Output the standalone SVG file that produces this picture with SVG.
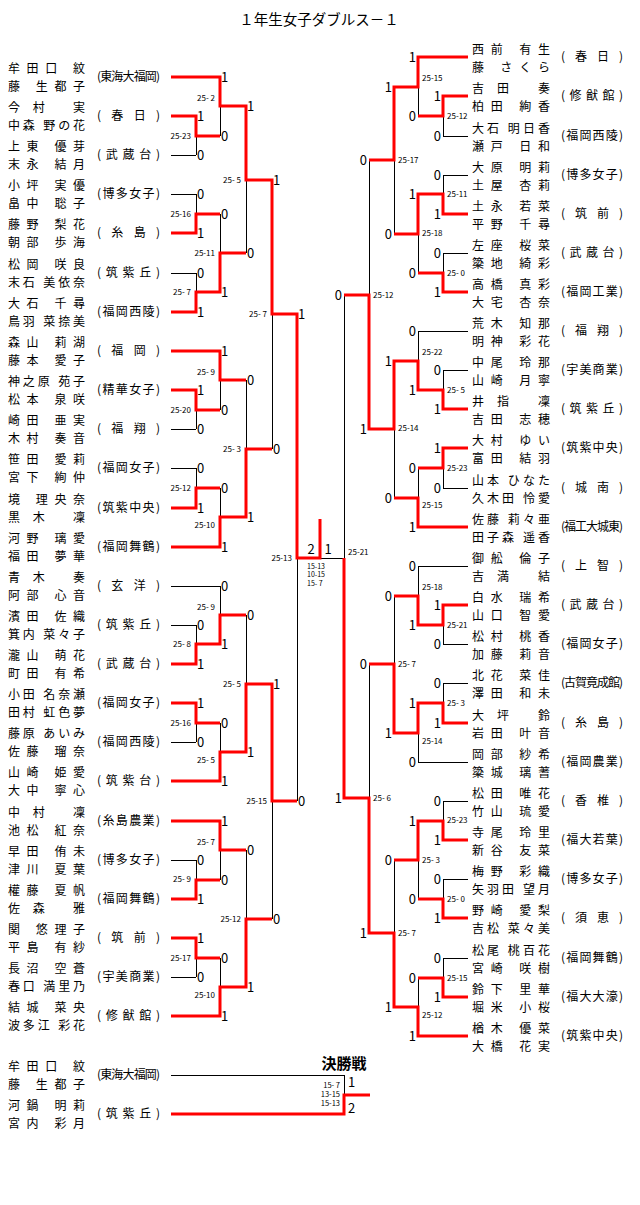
<svg xmlns="http://www.w3.org/2000/svg" width="640" height="1205" viewBox="0 0 640 1205">
<style>
text{font-family:"Noto Sans CJK JP","Noto Sans CJK SC",sans-serif;fill:#000}
.n{font-size:12px}
.t{font-size:12px}
.s{font-family:"Liberation Sans",Arial,sans-serif;font-size:8px;white-space:pre}
.c{font-size:7px}
.f{font-size:7.5px}
.d{font-family:"Liberation Sans",Arial,sans-serif;font-size:13px}
.e{text-anchor:end}
.m{text-anchor:middle}
.k{stroke:#000;stroke-width:1;fill:none}
.r{stroke:#f00;stroke-width:3;fill:none;stroke-linejoin:miter}
</style>
<rect width="640" height="1205" fill="#fff"/>
<text id="title" x="319" y="25" class="m" style="font-size:14.5px">１年生女子ダブルス－１</text>

<g id="left-entries">
<g id="L1"><text class="n"><tspan x="8" y="73.2" textLength="77" lengthAdjust="spacing">牟田口 紋</tspan><tspan x="8" y="90.7" textLength="77" lengthAdjust="spacing">藤 生都子</tspan></text><text class="t" x="97" y="81" textLength="63" lengthAdjust="spacing">(東海大福岡)</text></g>
<g id="L2"><text class="n"><tspan x="8" y="112.2" textLength="77" lengthAdjust="spacing">今村 実</tspan><tspan x="8" y="129.7" textLength="77" lengthAdjust="spacing">中森 野の花</tspan></text><text class="t" x="97" y="120" textLength="63" lengthAdjust="spacing">(春日)</text></g>
<g id="L3"><text class="n"><tspan x="8" y="151.2" textLength="77" lengthAdjust="spacing">上東 優芽</tspan><tspan x="8" y="168.7" textLength="77" lengthAdjust="spacing">末永 結月</tspan></text><text class="t" x="97" y="159" textLength="63" lengthAdjust="spacing">(武蔵台)</text></g>
<g id="L4"><text class="n"><tspan x="8" y="190.2" textLength="77" lengthAdjust="spacing">小坪 実優</tspan><tspan x="8" y="207.7" textLength="77" lengthAdjust="spacing">畠中 聡子</tspan></text><text class="t" x="97" y="198" textLength="63" lengthAdjust="spacing">(博多女子)</text></g>
<g id="L5"><text class="n"><tspan x="8" y="229.2" textLength="77" lengthAdjust="spacing">藤野 梨花</tspan><tspan x="8" y="246.7" textLength="77" lengthAdjust="spacing">朝部 歩海</tspan></text><text class="t" x="97" y="237" textLength="63" lengthAdjust="spacing">(糸島)</text></g>
<g id="L6"><text class="n"><tspan x="8" y="269.2" textLength="77" lengthAdjust="spacing">松岡 咲良</tspan><tspan x="8" y="286.7" textLength="77" lengthAdjust="spacing">末石 美依奈</tspan></text><text class="t" x="97" y="277" textLength="63" lengthAdjust="spacing">(筑紫丘)</text></g>
<g id="L7"><text class="n"><tspan x="8" y="308.2" textLength="77" lengthAdjust="spacing">大石 千尋</tspan><tspan x="8" y="325.7" textLength="77" lengthAdjust="spacing">鳥羽 菜捺美</tspan></text><text class="t" x="97" y="316" textLength="63" lengthAdjust="spacing">(福岡西陵)</text></g>
<g id="L8"><text class="n"><tspan x="8" y="347.2" textLength="77" lengthAdjust="spacing">森山 莉湖</tspan><tspan x="8" y="364.7" textLength="77" lengthAdjust="spacing">藤本 愛子</tspan></text><text class="t" x="97" y="355" textLength="63" lengthAdjust="spacing">(福岡)</text></g>
<g id="L9"><text class="n"><tspan x="8" y="386.2" textLength="77" lengthAdjust="spacing">神之原 苑子</tspan><tspan x="8" y="403.7" textLength="77" lengthAdjust="spacing">松本 泉咲</tspan></text><text class="t" x="97" y="394" textLength="63" lengthAdjust="spacing">(精華女子)</text></g>
<g id="L10"><text class="n"><tspan x="8" y="425.2" textLength="77" lengthAdjust="spacing">崎田 亜実</tspan><tspan x="8" y="442.7" textLength="77" lengthAdjust="spacing">木村 奏音</tspan></text><text class="t" x="97" y="433" textLength="63" lengthAdjust="spacing">(福翔)</text></g>
<g id="L11"><text class="n"><tspan x="8" y="464.2" textLength="77" lengthAdjust="spacing">笹田 愛莉</tspan><tspan x="8" y="481.7" textLength="77" lengthAdjust="spacing">宮下 絢仲</tspan></text><text class="t" x="97" y="472" textLength="63" lengthAdjust="spacing">(福岡女子)</text></g>
<g id="L12"><text class="n"><tspan x="8" y="504.2" textLength="77" lengthAdjust="spacing">境 理央奈</tspan><tspan x="8" y="521.7" textLength="77" lengthAdjust="spacing">黒木 凜</tspan></text><text class="t" x="97" y="512" textLength="63" lengthAdjust="spacing">(筑紫中央)</text></g>
<g id="L13"><text class="n"><tspan x="8" y="543.2" textLength="77" lengthAdjust="spacing">河野 璃愛</tspan><tspan x="8" y="560.7" textLength="77" lengthAdjust="spacing">福田 夢華</tspan></text><text class="t" x="97" y="551" textLength="63" lengthAdjust="spacing">(福岡舞鶴)</text></g>
<g id="L14"><text class="n"><tspan x="8" y="582.2" textLength="77" lengthAdjust="spacing">青木 奏</tspan><tspan x="8" y="599.7" textLength="77" lengthAdjust="spacing">阿部 心音</tspan></text><text class="t" x="97" y="590" textLength="63" lengthAdjust="spacing">(玄洋)</text></g>
<g id="L15"><text class="n"><tspan x="8" y="621.2" textLength="77" lengthAdjust="spacing">濱田 佐織</tspan><tspan x="8" y="638.7" textLength="77" lengthAdjust="spacing">箕内 菜々子</tspan></text><text class="t" x="97" y="629" textLength="63" lengthAdjust="spacing">(筑紫丘)</text></g>
<g id="L16"><text class="n"><tspan x="8" y="660.2" textLength="77" lengthAdjust="spacing">瀧山 萌花</tspan><tspan x="8" y="677.7" textLength="77" lengthAdjust="spacing">町田 有希</tspan></text><text class="t" x="97" y="668" textLength="63" lengthAdjust="spacing">(武蔵台)</text></g>
<g id="L17"><text class="n"><tspan x="8" y="699.2" textLength="77" lengthAdjust="spacing">小田 名奈瀬</tspan><tspan x="8" y="716.7" textLength="77" lengthAdjust="spacing">田村 虹色夢</tspan></text><text class="t" x="97" y="707" textLength="63" lengthAdjust="spacing">(福岡女子)</text></g>
<g id="L18"><text class="n"><tspan x="8" y="738.2" textLength="77" lengthAdjust="spacing">藤原 あいみ</tspan><tspan x="8" y="755.7" textLength="77" lengthAdjust="spacing">佐藤 瑠奈</tspan></text><text class="t" x="97" y="746" textLength="63" lengthAdjust="spacing">(福岡西陵)</text></g>
<g id="L19"><text class="n"><tspan x="8" y="777.2" textLength="77" lengthAdjust="spacing">山崎 姫愛</tspan><tspan x="8" y="794.7" textLength="77" lengthAdjust="spacing">大中 寧心</tspan></text><text class="t" x="97" y="785" textLength="63" lengthAdjust="spacing">(筑紫台)</text></g>
<g id="L20"><text class="n"><tspan x="8" y="817.2" textLength="77" lengthAdjust="spacing">中村 凜</tspan><tspan x="8" y="834.7" textLength="77" lengthAdjust="spacing">池松 紅奈</tspan></text><text class="t" x="97" y="825" textLength="63" lengthAdjust="spacing">(糸島農業)</text></g>
<g id="L21"><text class="n"><tspan x="8" y="856.2" textLength="77" lengthAdjust="spacing">早田 侑未</tspan><tspan x="8" y="873.7" textLength="77" lengthAdjust="spacing">津川 夏葉</tspan></text><text class="t" x="97" y="864" textLength="63" lengthAdjust="spacing">(博多女子)</text></g>
<g id="L22"><text class="n"><tspan x="8" y="895.2" textLength="77" lengthAdjust="spacing">權藤 夏帆</tspan><tspan x="8" y="912.7" textLength="77" lengthAdjust="spacing">佐森 雅</tspan></text><text class="t" x="97" y="903" textLength="63" lengthAdjust="spacing">(福岡舞鶴)</text></g>
<g id="L23"><text class="n"><tspan x="8" y="934.2" textLength="77" lengthAdjust="spacing">関 悠理子</tspan><tspan x="8" y="951.7" textLength="77" lengthAdjust="spacing">平島 有紗</tspan></text><text class="t" x="97" y="942" textLength="63" lengthAdjust="spacing">(筑前)</text></g>
<g id="L24"><text class="n"><tspan x="8" y="973.2" textLength="77" lengthAdjust="spacing">長沼 空蒼</tspan><tspan x="8" y="990.7" textLength="77" lengthAdjust="spacing">春口 満里乃</tspan></text><text class="t" x="97" y="981" textLength="63" lengthAdjust="spacing">(宇美商業)</text></g>
<g id="L25"><text class="n"><tspan x="8" y="1012.2" textLength="77" lengthAdjust="spacing">結城 菜央</tspan><tspan x="8" y="1029.7" textLength="77" lengthAdjust="spacing">波多江 彩花</tspan></text><text class="t" x="97" y="1020" textLength="63" lengthAdjust="spacing">(修猷館)</text></g>
</g>

<g id="right-entries">
<g id="R1"><text class="n"><tspan x="472" y="54.2" textLength="78" lengthAdjust="spacing">西前 有生</tspan><tspan x="472" y="71.7" textLength="78" lengthAdjust="spacing">藤 さくら</tspan></text><text class="t" x="561" y="61" textLength="62" lengthAdjust="spacing">(春日)</text></g>
<g id="R2"><text class="n"><tspan x="472" y="93.2" textLength="78" lengthAdjust="spacing">吉田 奏</tspan><tspan x="472" y="110.7" textLength="78" lengthAdjust="spacing">柏田 絢香</tspan></text><text class="t" x="561" y="100" textLength="62" lengthAdjust="spacing">(修猷館)</text></g>
<g id="R3"><text class="n"><tspan x="472" y="133.2" textLength="78" lengthAdjust="spacing">大石 明日香</tspan><tspan x="472" y="150.7" textLength="78" lengthAdjust="spacing">瀬戸 日和</tspan></text><text class="t" x="561" y="140" textLength="62" lengthAdjust="spacing">(福岡西陵)</text></g>
<g id="R4"><text class="n"><tspan x="472" y="172.2" textLength="78" lengthAdjust="spacing">大原 明莉</tspan><tspan x="472" y="189.7" textLength="78" lengthAdjust="spacing">土屋 杏莉</tspan></text><text class="t" x="561" y="179" textLength="62" lengthAdjust="spacing">(博多女子)</text></g>
<g id="R5"><text class="n"><tspan x="472" y="211.2" textLength="78" lengthAdjust="spacing">土永 若菜</tspan><tspan x="472" y="228.7" textLength="78" lengthAdjust="spacing">平野 千尋</tspan></text><text class="t" x="561" y="218" textLength="62" lengthAdjust="spacing">(筑前)</text></g>
<g id="R6"><text class="n"><tspan x="472" y="250.2" textLength="78" lengthAdjust="spacing">左座 桜菜</tspan><tspan x="472" y="267.7" textLength="78" lengthAdjust="spacing">簗地 綺彩</tspan></text><text class="t" x="561" y="257" textLength="62" lengthAdjust="spacing">(武蔵台)</text></g>
<g id="R7"><text class="n"><tspan x="472" y="289.2" textLength="78" lengthAdjust="spacing">高橋 真彩</tspan><tspan x="472" y="306.7" textLength="78" lengthAdjust="spacing">大宅 杏奈</tspan></text><text class="t" x="561" y="296" textLength="62" lengthAdjust="spacing">(福岡工業)</text></g>
<g id="R8"><text class="n"><tspan x="472" y="328.2" textLength="78" lengthAdjust="spacing">荒木 知那</tspan><tspan x="472" y="345.7" textLength="78" lengthAdjust="spacing">明神 彩花</tspan></text><text class="t" x="561" y="335" textLength="62" lengthAdjust="spacing">(福翔)</text></g>
<g id="R9"><text class="n"><tspan x="472" y="367.2" textLength="78" lengthAdjust="spacing">中尾 玲那</tspan><tspan x="472" y="384.7" textLength="78" lengthAdjust="spacing">山崎 月寧</tspan></text><text class="t" x="561" y="374" textLength="62" lengthAdjust="spacing">(宇美商業)</text></g>
<g id="R10"><text class="n"><tspan x="472" y="406.2" textLength="78" lengthAdjust="spacing">井指 凜</tspan><tspan x="472" y="423.7" textLength="78" lengthAdjust="spacing">吉田 志穂</tspan></text><text class="t" x="561" y="413" textLength="62" lengthAdjust="spacing">(筑紫丘)</text></g>
<g id="R11"><text class="n"><tspan x="472" y="445.2" textLength="78" lengthAdjust="spacing">大村 ゆい</tspan><tspan x="472" y="462.7" textLength="78" lengthAdjust="spacing">富田 結羽</tspan></text><text class="t" x="561" y="452" textLength="62" lengthAdjust="spacing">(筑紫中央)</text></g>
<g id="R12"><text class="n"><tspan x="472" y="485.2" textLength="78" lengthAdjust="spacing">山本 ひなた</tspan><tspan x="472" y="502.7" textLength="78" lengthAdjust="spacing">久木田 怜愛</tspan></text><text class="t" x="561" y="492" textLength="62" lengthAdjust="spacing">(城南)</text></g>
<g id="R13"><text class="n"><tspan x="472" y="524.2" textLength="78" lengthAdjust="spacing">佐藤 莉々亜</tspan><tspan x="472" y="541.7" textLength="78" lengthAdjust="spacing">田子森 遥香</tspan></text><text class="t" x="561" y="531" textLength="62" lengthAdjust="spacing">(福工大城東)</text></g>
<g id="R14"><text class="n"><tspan x="472" y="563.2" textLength="78" lengthAdjust="spacing">御舩 倫子</tspan><tspan x="472" y="580.7" textLength="78" lengthAdjust="spacing">吉満 結</tspan></text><text class="t" x="561" y="570" textLength="62" lengthAdjust="spacing">(上智)</text></g>
<g id="R15"><text class="n"><tspan x="472" y="602.2" textLength="78" lengthAdjust="spacing">白水 瑞希</tspan><tspan x="472" y="619.7" textLength="78" lengthAdjust="spacing">山口 智愛</tspan></text><text class="t" x="561" y="609" textLength="62" lengthAdjust="spacing">(武蔵台)</text></g>
<g id="R16"><text class="n"><tspan x="472" y="641.2" textLength="78" lengthAdjust="spacing">松村 桃香</tspan><tspan x="472" y="658.7" textLength="78" lengthAdjust="spacing">加藤 莉音</tspan></text><text class="t" x="561" y="648" textLength="62" lengthAdjust="spacing">(福岡女子)</text></g>
<g id="R17"><text class="n"><tspan x="472" y="680.2" textLength="78" lengthAdjust="spacing">北花 菜佳</tspan><tspan x="472" y="697.7" textLength="78" lengthAdjust="spacing">澤田 和未</tspan></text><text class="t" x="561" y="687" textLength="62" lengthAdjust="spacing">(古賀竟成館)</text></g>
<g id="R18"><text class="n"><tspan x="472" y="720.2" textLength="78" lengthAdjust="spacing">大坪 鈴</tspan><tspan x="472" y="737.7" textLength="78" lengthAdjust="spacing">岩田 叶音</tspan></text><text class="t" x="561" y="727" textLength="62" lengthAdjust="spacing">(糸島)</text></g>
<g id="R19"><text class="n"><tspan x="472" y="759.2" textLength="78" lengthAdjust="spacing">岡部 紗希</tspan><tspan x="472" y="776.7" textLength="78" lengthAdjust="spacing">簗城 璃蓍</tspan></text><text class="t" x="561" y="766" textLength="62" lengthAdjust="spacing">(福岡農業)</text></g>
<g id="R20"><text class="n"><tspan x="472" y="798.2" textLength="78" lengthAdjust="spacing">松田 唯花</tspan><tspan x="472" y="815.7" textLength="78" lengthAdjust="spacing">竹山 琉愛</tspan></text><text class="t" x="561" y="805" textLength="62" lengthAdjust="spacing">(香椎)</text></g>
<g id="R21"><text class="n"><tspan x="472" y="837.2" textLength="78" lengthAdjust="spacing">寺尾 玲里</tspan><tspan x="472" y="854.7" textLength="78" lengthAdjust="spacing">新谷 友菜</tspan></text><text class="t" x="561" y="844" textLength="62" lengthAdjust="spacing">(福大若葉)</text></g>
<g id="R22"><text class="n"><tspan x="472" y="876.2" textLength="78" lengthAdjust="spacing">梅野 彩織</tspan><tspan x="472" y="893.7" textLength="78" lengthAdjust="spacing">矢羽田 望月</tspan></text><text class="t" x="561" y="883" textLength="62" lengthAdjust="spacing">(博多女子)</text></g>
<g id="R23"><text class="n"><tspan x="472" y="915.2" textLength="78" lengthAdjust="spacing">野崎 愛梨</tspan><tspan x="472" y="932.7" textLength="78" lengthAdjust="spacing">吉松 菜々美</tspan></text><text class="t" x="561" y="922" textLength="62" lengthAdjust="spacing">(須恵)</text></g>
<g id="R24"><text class="n"><tspan x="472" y="955.2" textLength="78" lengthAdjust="spacing">松尾 桃百花</tspan><tspan x="472" y="972.7" textLength="78" lengthAdjust="spacing">宮崎 咲樹</tspan></text><text class="t" x="561" y="962" textLength="62" lengthAdjust="spacing">(福岡舞鶴)</text></g>
<g id="R25"><text class="n"><tspan x="472" y="994.2" textLength="78" lengthAdjust="spacing">鈴下 里華</tspan><tspan x="472" y="1011.7" textLength="78" lengthAdjust="spacing">堀米 小桜</tspan></text><text class="t" x="561" y="1001" textLength="62" lengthAdjust="spacing">(福大大濠)</text></g>
<g id="R26"><text class="n"><tspan x="472" y="1033.2" textLength="78" lengthAdjust="spacing">楢木 優菜</tspan><tspan x="472" y="1050.7" textLength="78" lengthAdjust="spacing">大橋 花実</tspan></text><text class="t" x="561" y="1040" textLength="62" lengthAdjust="spacing">(筑紫中央)</text></g>
</g>

<g id="final-entries">
<g id="F1"><text class="n"><tspan x="8" y="1071.2" textLength="77" lengthAdjust="spacing">牟田口 紋</tspan><tspan x="8" y="1088.7" textLength="77" lengthAdjust="spacing">藤 生都子</tspan></text><text class="t" x="97" y="1079" textLength="63" lengthAdjust="spacing">(東海大福岡)</text></g>
<g id="F2"><text class="n"><tspan x="8" y="1110.2" textLength="77" lengthAdjust="spacing">河鍋 明莉</tspan><tspan x="8" y="1127.7" textLength="77" lengthAdjust="spacing">宮内 彩月</tspan></text><text class="t" x="97" y="1118" textLength="63" lengthAdjust="spacing">(筑紫丘)</text></g>
<text id="final-title" x="344" y="1069" class="m" style="font-size:15px;font-weight:bold">決勝戦</text>
</g>

<g id="connectors">
<path class="k" shape-rendering="crispEdges" d="M171 155H196M171 194H196M171 273H196M171 429H196M171 468H196M171 586H220M171 625H196M171 742H196M171 860H196M171 977H196
M196 116V155M196 194V233M196 273V312M196 390V429M196 468V508M196 625V664M196 703V742M196 860V899M196 938V977
M220 77V136M220 214V292M220 351V410M220 488V547M220 586V644M220 723V781M220 821V880M220 958V1016
M246 106V253M246 380V517M246 615V752M246 850V987M272 180V449M272 684V919M297 314V801M297 558H344"/>
<path class="k" shape-rendering="crispEdges" d="M443 136H468M443 175H468M443 253H468M418 331H468M443 370H468M443 488H468M418 566H468M443 644H468M443 683H468M418 762H468M443 801H468M443 879H468M443 958H468
M443 96V136M443 175V214M443 253V292M443 370V409M443 448V488M443 605V644M443 683V723M443 801V840M443 879V918M443 958V997
M418 57V116M418 194V273M418 331V390M418 468V527M418 566V625M418 703V762M418 821V899M418 978V1036
M394 87V234M394 361V498M394 596V733M394 860V1007M369 160V429M369 664V933M344 295V798"/>
<path class="k" shape-rendering="crispEdges" d="M171 1075H344V1095"/>
<path class="r" d="M171 77H220V106H246V180H272V314H297V558H320V519"/>
<path class="r" d="M171 116H196V136H220"/>
<path class="r" d="M171 233H196V214H220"/>
<path class="r" d="M171 312H196V292H220V253H246"/>
<path class="r" d="M171 351H220V380H246"/>
<path class="r" d="M171 390H196V410H220"/>
<path class="r" d="M171 508H196V488H220"/>
<path class="r" d="M171 547H220V517H246V449H272"/>
<path class="r" d="M171 664H196V644H220V615H246"/>
<path class="r" d="M171 703H196V723H220"/>
<path class="r" d="M171 781H220V752H246V684H272V801H297"/>
<path class="r" d="M171 821H220V850H246"/>
<path class="r" d="M171 899H196V880H220"/>
<path class="r" d="M171 938H196V958H220"/>
<path class="r" d="M171 1016H220V987H246V919H272"/>
<path class="r" d="M468 57H418V87H394V160H369"/>
<path class="r" d="M468 96H443V116H418"/>
<path class="r" d="M468 214H443V194H418V234H394"/>
<path class="r" d="M468 292H443V273H418"/>
<path class="r" d="M468 409H443V390H418V361H394V429H369V295H344"/>
<path class="r" d="M468 448H443V468H418"/>
<path class="r" d="M468 527H418V498H394"/>
<path class="r" d="M468 605H443V625H418V596H394"/>
<path class="r" d="M468 723H443V703H418V733H394V664H369"/>
<path class="r" d="M468 840H443V821H418V860H394"/>
<path class="r" d="M468 918H443V899H418"/>
<path class="r" d="M468 997H443V978H418"/>
<path class="r" d="M468 1036H418V1007H394V933H369V798H344V558"/>
<path class="r" d="M171 1114H344V1095H370"/>
</g>

<g id="scores" class="s">
<text class="e" x="191" y="139">25-23</text>
<text class="e" x="215" y="101">25- 2</text>
<text class="e" x="191" y="217">25-16</text>
<text class="e" x="191" y="295">25- 7</text>
<text class="e" x="215" y="256">25-11</text>
<text class="e" x="241" y="183">25- 5</text>
<text class="e" x="191" y="413">25-20</text>
<text class="e" x="215" y="375">25- 9</text>
<text class="e" x="191" y="491">25-12</text>
<text class="e" x="215" y="528">25-10</text>
<text class="e" x="241" y="452">25- 3</text>
<text class="e" x="267" y="317">25- 7</text>
<text class="e" x="191" y="647">25- 8</text>
<text class="e" x="215" y="610">25- 9</text>
<text class="e" x="191" y="726">25-16</text>
<text class="e" x="215" y="763">25- 5</text>
<text class="e" x="241" y="687">25- 5</text>
<text class="e" x="191" y="882">25- 9</text>
<text class="e" x="215" y="845">25- 7</text>
<text class="e" x="191" y="961">25-17</text>
<text class="e" x="215" y="998">25-10</text>
<text class="e" x="241" y="922">25-12</text>
<text class="e" x="267" y="804">25-15</text>
<text class="e" x="292" y="561">25-13</text>
<text x="447" y="119">25-12</text>
<text x="422" y="81">25-15</text>
<text x="447" y="197">25-11</text>
<text x="447" y="276">25- 0</text>
<text x="422" y="236">25-18</text>
<text x="398" y="163">25-17</text>
<text x="447" y="393">25- 5</text>
<text x="422" y="355">25-22</text>
<text x="447" y="471">25-23</text>
<text x="422" y="508">25-15</text>
<text x="398" y="431">25-14</text>
<text x="373" y="298">25-12</text>
<text x="447" y="628">25-21</text>
<text x="422" y="590">25-18</text>
<text x="447" y="706">25- 3</text>
<text x="422" y="744">25-14</text>
<text x="398" y="667">25- 7</text>
<text x="447" y="823">25-23</text>
<text x="447" y="902">25- 0</text>
<text x="422" y="863">25- 3</text>
<text x="447" y="981">25-15</text>
<text x="422" y="1018">25-12</text>
<text x="398" y="936">25- 7</text>
<text x="373" y="801">25- 6</text>
<text x="348" y="555">25-21</text>
<text id="center-score" class="c"><tspan x="307" y="569">15-13</tspan><tspan x="307" y="577.3">10-15</tspan><tspan x="307" y="585.6">15- 7</tspan></text>
<text id="final-score" class="e f"><tspan x="340" y="1088">15- 7</tspan><tspan x="340" y="1097">13-15</tspan><tspan x="340" y="1106">15-13</tspan></text>
</g>

<g id="results" class="d">
<text x="197" y="120.5">1</text><text x="197" y="159.5">0</text>
<text x="221" y="81.5">1</text><text x="221" y="140.5">0</text>
<text x="197" y="198.5">0</text><text x="197" y="237.5">1</text>
<text x="197" y="277.5">0</text><text x="197" y="316.5">1</text>
<text x="221" y="218.5">0</text><text x="221" y="296.5">1</text>
<text x="247" y="110.5">1</text><text x="247" y="257.5">0</text>
<text x="197" y="394.5">1</text><text x="197" y="433.5">0</text>
<text x="221" y="355.5">1</text><text x="221" y="414.5">0</text>
<text x="197" y="472.5">0</text><text x="197" y="512.5">1</text>
<text x="221" y="492.5">0</text><text x="221" y="551.5">1</text>
<text x="247" y="384.5">0</text><text x="247" y="521.5">1</text>
<text x="273" y="184.5">1</text><text x="273" y="453.5">0</text>
<text x="197" y="629.5">0</text><text x="197" y="668.5">1</text>
<text x="221" y="590.5">0</text><text x="221" y="648.5">1</text>
<text x="197" y="707.5">1</text><text x="197" y="746.5">0</text>
<text x="221" y="727.5">0</text><text x="221" y="785.5">1</text>
<text x="247" y="619.5">0</text><text x="247" y="756.5">1</text>
<text x="197" y="864.5">0</text><text x="197" y="903.5">1</text>
<text x="221" y="825.5">1</text><text x="221" y="884.5">0</text>
<text x="197" y="942.5">1</text><text x="197" y="981.5">0</text>
<text x="221" y="962.5">0</text><text x="221" y="1020.5">1</text>
<text x="247" y="854.5">0</text><text x="247" y="991.5">1</text>
<text x="273" y="688.5">1</text><text x="273" y="923.5">0</text>
<text x="298" y="318.5">1</text><text x="298" y="805.5">0</text>
<g class="e">
<text x="441" y="100.5">1</text><text x="441" y="140.5">0</text>
<text x="416" y="61.5">1</text><text x="416" y="120.5">0</text>
<text x="441" y="179.5">0</text><text x="441" y="218.5">1</text>
<text x="441" y="257.5">0</text><text x="441" y="296.5">1</text>
<text x="416" y="198.5">1</text><text x="416" y="277.5">0</text>
<text x="392" y="91.5">1</text><text x="392" y="238.5">0</text>
<text x="441" y="374.5">0</text><text x="441" y="413.5">1</text>
<text x="416" y="335.5">0</text><text x="416" y="394.5">1</text>
<text x="441" y="452.5">1</text><text x="441" y="492.5">0</text>
<text x="416" y="472.5">0</text><text x="416" y="531.5">1</text>
<text x="392" y="365.5">1</text><text x="392" y="502.5">0</text>
<text x="367" y="164.5">0</text><text x="367" y="433.5">1</text>
<text x="441" y="609.5">1</text><text x="441" y="648.5">0</text>
<text x="416" y="570.5">0</text><text x="416" y="629.5">1</text>
<text x="441" y="687.5">0</text><text x="441" y="727.5">1</text>
<text x="416" y="707.5">1</text><text x="416" y="766.5">0</text>
<text x="392" y="600.5">0</text><text x="392" y="737.5">1</text>
<text x="441" y="805.5">0</text><text x="441" y="844.5">1</text>
<text x="441" y="883.5">0</text><text x="441" y="922.5">1</text>
<text x="416" y="825.5">1</text><text x="416" y="903.5">0</text>
<text x="441" y="962.5">0</text><text x="441" y="1001.5">1</text>
<text x="416" y="982.5">0</text><text x="416" y="1040.5">1</text>
<text x="392" y="864.5">0</text><text x="392" y="1011.5">1</text>
<text x="367" y="668.5">0</text><text x="367" y="937.5">1</text>
<text x="342" y="299.5">0</text><text x="342" y="802.5">1</text>
</g>
<text class="m" x="311" y="554">2</text><text class="m" x="328" y="554">1</text>
<text x="348" y="1087">1</text><text x="348" y="1113">2</text>
</g>
</svg>
